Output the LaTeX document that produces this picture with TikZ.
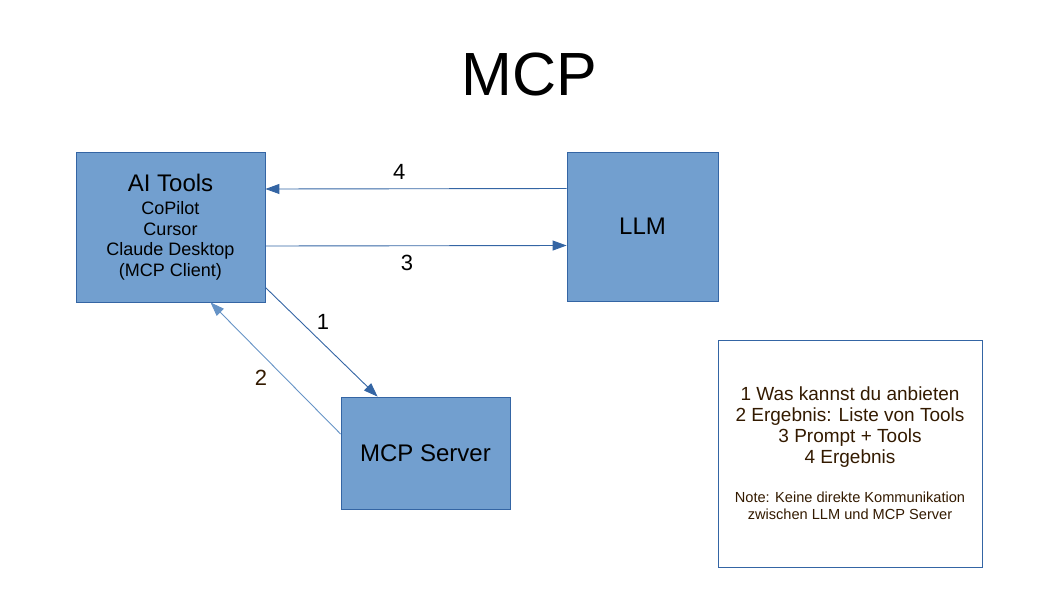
\documentclass[tikz,border=0pt]{standalone}
\usepackage{fontspec}
\setmainfont{Liberation Sans}
\usetikzlibrary{arrows.meta}
\definecolor{boxfill}{HTML}{729FCF}
\definecolor{boxline}{HTML}{3465A4}
\definecolor{notetext}{HTML}{331A00}
\newcommand{\bigsz}{\fontsize{24}{28}\selectfont}
\newcommand{\midsz}{\fontsize{18}{20.5}\selectfont}
\newcommand{\notesz}{\fontsize{19}{21}\selectfont}
\newcommand{\smallsz}{\fontsize{14.6}{17}\selectfont}
\begin{document}
\begin{tikzpicture}[x=1pt,y=-1pt,
  box/.style={draw=boxline,fill=boxfill,line width=0.8pt,inner sep=0pt,align=center},
  link/.style={-{Triangle[length=14pt,width=10pt]},boxline,line width=0.9pt},
  num/.style={text=black,font=\fontsize{22}{26}\selectfont}]
  \useasboundingbox (0,0) rectangle (1058,595);
  \node (title) at (529,74) {\fontsize{61}{70}\selectfont MCP};
  \node[box,minimum width=189pt,minimum height=150pt,font=\midsz] (ai) at (170.5,227)
    {\bigsz AI Tools\\[3pt]
     \midsz CoPilot\\ \midsz Cursor\\ \midsz Claude Desktop\\ \midsz (MCP Client)};
  \node[box,minimum width=151pt,minimum height=149pt,font=\bigsz] (llm) at (642.5,226.5)
    {LLM};
  \node[box,minimum width=169pt,minimum height=112pt,font=\bigsz] (server) at (425.5,453)
    {MCP Server};
  \node[draw=boxline,line width=0.8pt,minimum width=264pt,minimum height=227pt,
        align=center,text=notetext,font=\notesz] (note) at (850,453.5)
    {\notesz 1 Was kannst du anbieten\\
     \notesz 2 Ergebnis: Liste von Tools\\ \notesz 3 Prompt + Tools\\ \notesz 4 Ergebnis\\[18pt]
     \smallsz Note: Keine direkte Kommunikation\\[-4pt]
     \smallsz zwischen LLM und MCP Server};
  \draw[link] ([yshift=38pt]llm.west) -- node[num,pos=0.556,above=6pt] {4} ([yshift=38pt]ai.east);
  \draw[link] ([yshift=-19pt]ai.east) -- node[num,pos=0.47,below=6pt] {3} ([yshift=-19pt]llm.west);
  \draw[link] ([yshift=15pt]ai.south east) -- node[num,xshift=1.5pt,yshift=20pt] {1} ([xshift=37pt]server.north west);
  \draw[link,draw=boxfill!80!boxline] ([yshift=19pt]server.west) -- node[num,xshift=-14.5pt,yshift=-10pt,text=notetext] {2} ([xshift=40pt]ai.south);
\end{tikzpicture}
\end{document}
